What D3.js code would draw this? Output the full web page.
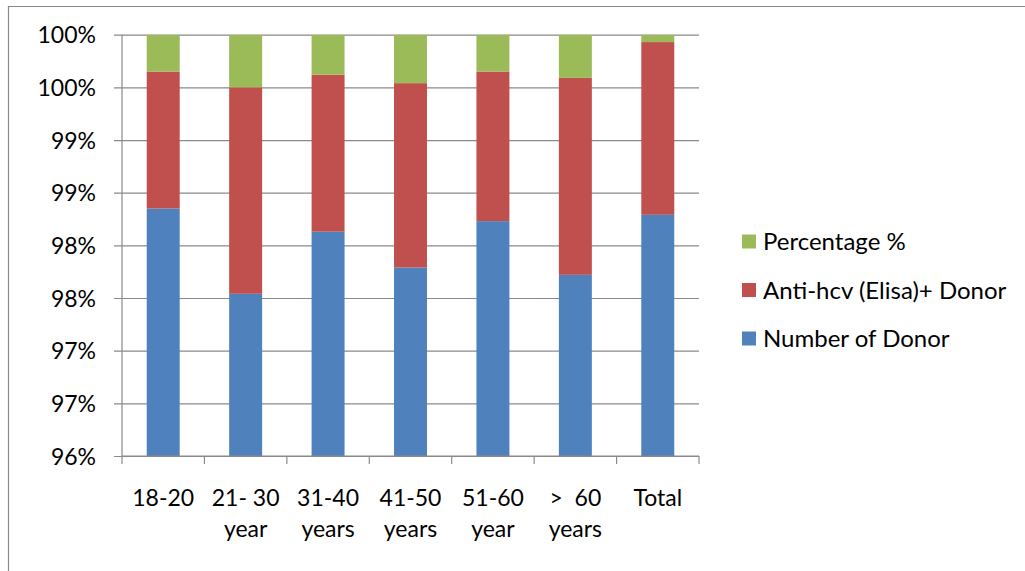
<!DOCTYPE html>
<html>
<head>
<meta charset="utf-8">
<script src="https://cdn.jsdelivr.net/npm/d3@7"></script>
<style>
  html, body { margin: 0; padding: 0; background: #fff; }
  svg text { font-family: Lato, "Open Sans", sans-serif; fill: #000; }
</style>
</head>
<body>
<svg id="chart" width="1025" height="571"></svg>
<script>
// Age groups (each label may wrap onto two lines)
const categories = ["18-20", "21- 30 year", "31-40 years", "41-50 years", "51-60 year", ">  60 years", "Total"];
const categoryLines = [
  ["18-20"],
  ["21- 30", "year"],
  ["31-40", "years"],
  ["41-50", "years"],
  ["51-60", "year"],
  [">  60", "years"],
  ["Total"]
];

// Share of each stack (percent)
const numberOfDonor = [98.35, 97.54, 98.13, 97.79, 98.23, 97.72, 98.29];
const antiHcvDonor  = [1.30, 1.96, 1.49, 1.75, 1.42, 1.87, 1.64];
const percentage    = [0.35, 0.50, 0.38, 0.46, 0.35, 0.41, 0.07];

// Value-axis ticks (fraction of the stack) and series names
const yTicks = [0.96, 0.965, 0.97, 0.975, 0.98, 0.985, 0.99, 0.995, 1.0];
const seriesNames = ["Number of Donor", "Anti-hcv (Elisa)+ Donor", "Percentage %"];
const seriesColors = ["#4F81BD", "#C0504D", "#9BBB59"];

const rows = categories.map((c, i) => ({
  category: c,
  "Number of Donor": numberOfDonor[i],
  "Anti-hcv (Elisa)+ Donor": antiHcvDonor[i],
  "Percentage %": percentage[i]
}));

const stacked = d3.stack()
  .keys(seriesNames)
  .offset(d3.stackOffsetExpand)(rows);

const svg = d3.select("#chart");
const plot = { left: 122, right: 699, top: 34.7, bottom: 456 };

const x = d3.scaleBand()
  .domain(categories)
  .range([plot.left, plot.right])
  .padding(0);
const barWidth = x.step() * 0.4;

const y = d3.scaleLinear()
  .domain([0.96, 1.0])
  .range([plot.bottom, plot.top]);

const color = d3.scaleOrdinal().domain(seriesNames).range(seriesColors);

// Outer frame (top and left edges visible)
svg.append("path")
  .attr("d", "M8.5,571 V6.5 H1025")
  .attr("fill", "none")
  .attr("stroke", "#8a8a8a")
  .attr("stroke-width", 1.2);

// Horizontal gridlines with outward ticks
const yAxis = d3.axisLeft(y)
  .tickValues(yTicks)
  .tickSize(-(plot.right - plot.left))
  .tickPadding(18)
  .tickFormat(d => Math.round(d * 100) + "%");

const yg = svg.append("g")
  .attr("transform", `translate(${plot.left},0)`)
  .call(yAxis);
yg.select(".domain").remove();
yg.selectAll(".tick line")
  .attr("x1", -8)
  .attr("stroke", "#8a8a8a")
  .attr("stroke-width", 1.2);
yg.selectAll(".tick text")
  .attr("x", -26)
  .attr("dy", "0.36em")
  .style("font-size", "23px")
  .style("font-family", "Lato, 'Open Sans', sans-serif")
  .attr("fill", "#000");

// Bars
svg.append("defs").append("clipPath").attr("id", "plotClip")
  .append("rect")
  .attr("x", plot.left)
  .attr("y", plot.top)
  .attr("width", plot.right - plot.left)
  .attr("height", plot.bottom - plot.top);

const barsG = svg.append("g").attr("clip-path", "url(#plotClip)");
barsG.selectAll("g.series")
  .data(stacked)
  .join("g")
  .attr("class", "series")
  .attr("fill", d => color(d.key))
  .selectAll("rect")
  .data(d => d)
  .join("rect")
  .attr("x", d => x(d.data.category) + (x.bandwidth() - barWidth) / 2)
  .attr("y", d => y(d[1]))
  .attr("width", barWidth)
  .attr("height", d => Math.max(0, y(d[0]) - y(d[1])));

// Vertical value axis line
svg.append("line")
  .attr("x1", plot.left).attr("x2", plot.left)
  .attr("y1", plot.top).attr("y2", plot.bottom)
  .attr("stroke", "#8a8a8a").attr("stroke-width", 1.2);

// Category axis with boundary ticks
const xg = svg.append("g");
xg.append("line")
  .attr("x1", plot.left).attr("x2", plot.right)
  .attr("y1", plot.bottom).attr("y2", plot.bottom)
  .attr("stroke", "#8a8a8a").attr("stroke-width", 1.2);
const boundaries = categories.map(c => x(c)).concat([x.range()[1]]);
xg.selectAll("line.tick")
  .data(boundaries)
  .join("line")
  .attr("class", "tick")
  .attr("x1", d => d).attr("x2", d => d)
  .attr("y1", plot.bottom).attr("y2", plot.bottom + 8)
  .attr("stroke", "#8a8a8a").attr("stroke-width", 1.2);

const labelG = xg.selectAll("text.cat")
  .data(categories)
  .join("text")
  .attr("class", "cat")
  .attr("text-anchor", "middle")
  .attr("xml:space", "preserve")
  .style("white-space", "pre")
  .style("font-size", "23px");
labelG.each(function (c, i) {
  const t = d3.select(this);
  categoryLines[i].forEach((line, k) => {
    t.append("tspan")
      .attr("x", x(c) + x.bandwidth() / 2)
      .attr("y", 506 + k * 31)
      .text(line);
  });
});

// Legend (top entry is the top stack segment)
const legendItems = seriesNames.slice().reverse();
const legend = svg.append("g");
legendItems.forEach((name, i) => {
  const cy = 241.5 + i * 48.5;
  legend.append("rect")
    .attr("x", 742).attr("y", cy - 7)
    .attr("width", 14).attr("height", 14)
    .attr("fill", color(name));
  legend.append("text")
    .attr("x", 763).attr("y", cy)
    .attr("dy", "0.36em")
    .style("font-size", "24px")
    .text(name);
});
</script>
</body>
</html>
